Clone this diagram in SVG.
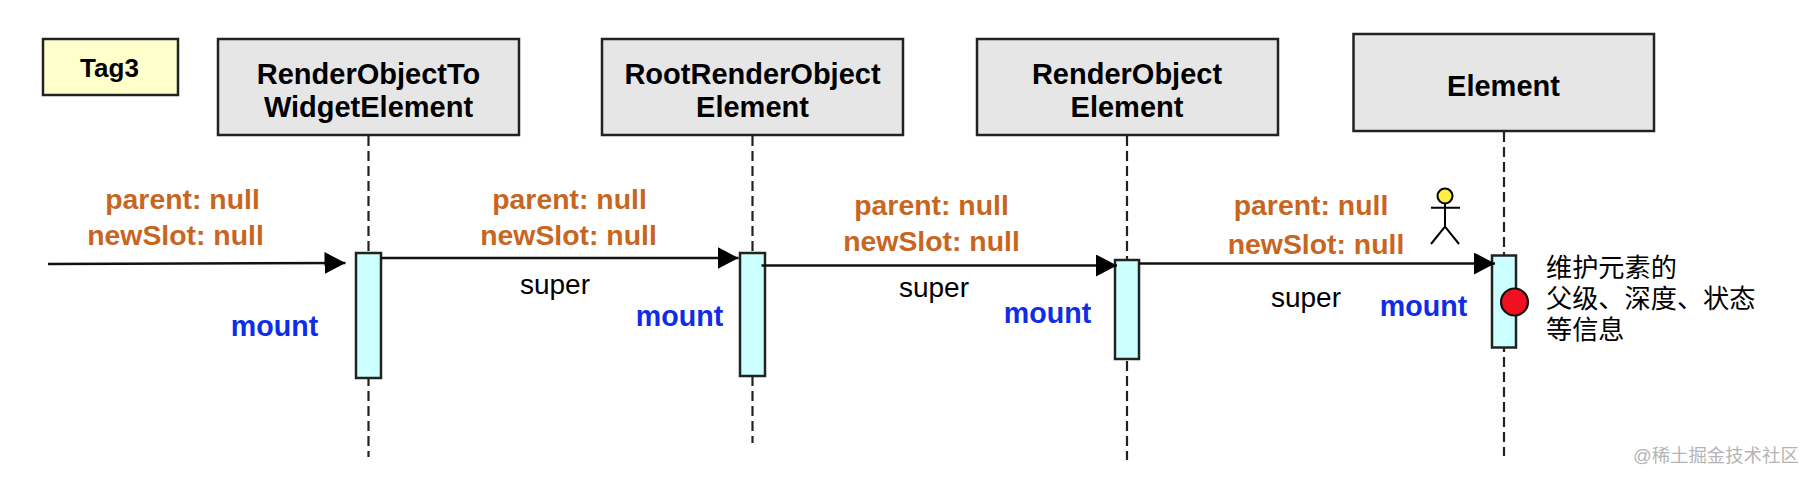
<svg xmlns="http://www.w3.org/2000/svg" width="1810" height="482" viewBox="0 0 1810 482">
<style>
text{font-family:"Liberation Sans",Arial,"Noto Sans CJK SC",sans-serif}
.b{font-weight:bold;text-anchor:middle;fill:#000;font-size:29px}
.box{fill:#e6e6e6;stroke:#222;stroke-width:2.5}
.act{fill:#ccffff;stroke:#222;stroke-width:2.5}
.life{stroke:#222;stroke-width:2.2;stroke-dasharray:10 5;fill:none}
.msg{stroke:#111;stroke-width:2.5;fill:none;marker-end:url(#ah)}
.arg{font-weight:bold;font-size:28.4px;fill:#c8661f;text-anchor:middle}
.mount{font-weight:bold;font-size:28.6px;fill:#0f2de8;text-anchor:middle}
.super{font-size:28px;fill:#000;text-anchor:middle}
.note{font-size:26.2px;fill:#000}
.wm{font-size:18.4px;fill:#b4b4b4}
</style>
<defs>
<marker id="ah" markerUnits="userSpaceOnUse" markerWidth="22" markerHeight="24" refX="21" refY="11" orient="auto">
<path d="M0 0L21 11L0 22Z" fill="#000"/>
</marker>
</defs>
<rect width="1810" height="482" fill="#fff"/>
<g id="lifelines">
<path class="life" d="M368.5 136V457"/>
<path class="life" d="M752.5 136V443"/>
<path class="life" d="M1127 136V460"/>
<path class="life" d="M1504 132V456"/>
</g>
<g id="tag3">
<rect x="43" y="39" width="135" height="56" fill="#ffffcc" stroke="#222" stroke-width="2.5"/>
<text class="b" x="109.5" y="76.5" style="font-size:26px">Tag3</text>
</g>
<g id="node-renderobjecttowidgetelement">
<rect class="box" x="218" y="39" width="301" height="96"/>
<text class="b" x="368.5" y="84">RenderObjectTo</text>
<text class="b" x="368.5" y="116.5">WidgetElement</text>
</g>
<g id="node-rootrenderobjectelement">
<rect class="box" x="602" y="39" width="301" height="96"/>
<text class="b" x="752.5" y="84">RootRenderObject</text>
<text class="b" x="752.5" y="116.5">Element</text>
</g>
<g id="node-renderobjectelement">
<rect class="box" x="977" y="39" width="301" height="96"/>
<text class="b" x="1127" y="84">RenderObject</text>
<text class="b" x="1127" y="116.5">Element</text>
</g>
<g id="node-element">
<rect class="box" x="1353.5" y="34" width="300.5" height="97"/>
<text class="b" x="1503.5" y="95.5">Element</text>
</g>
<g id="act-1"><rect class="act" x="356" y="253" width="25" height="125"/></g>
<g id="act-2"><rect class="act" x="740" y="253" width="25" height="123"/></g>
<g id="act-3"><rect class="act" x="1115" y="260" width="24" height="99"/></g>
<g id="act-4"><rect class="act" x="1492" y="255.500" width="24" height="92"/></g>
<g id="connectors">
<path class="msg" d="M48 264L345.500 263"/>
<path class="msg" d="M381 258H738.500"/>
<path class="msg" d="M761.500 265.500H1117"/>
<path class="msg" d="M1139 263.500H1495"/>
</g>
<g id="labels">
<text class="arg" x="182.500" y="209">parent: null</text>
<text class="arg" x="175.500" y="245">newSlot: null</text>
<text class="mount" x="274.500" y="336">mount</text>
<text class="arg" x="569.500" y="209">parent: null</text>
<text class="arg" x="568.500" y="245">newSlot: null</text>
<text class="super" x="555" y="294">super</text>
<text class="mount" x="679.500" y="326">mount</text>
<text class="arg" x="931.500" y="215">parent: null</text>
<text class="arg" x="931.500" y="251">newSlot: null</text>
<text class="super" x="934" y="297">super</text>
<text class="mount" x="1047.500" y="323">mount</text>
<text class="arg" x="1311" y="215">parent: null</text>
<text class="arg" x="1316" y="254">newSlot: null</text>
<text class="super" x="1306" y="307">super</text>
<text class="mount" x="1423.500" y="316">mount</text>
</g>
<g id="actor" fill="none" stroke="#000" stroke-width="2">
<circle cx="1445" cy="196" r="7.500" fill="#ffee44"/>
<path d="M1431 207.700H1460M1445 203.500V226.700L1431 244M1445 226.700L1459 244"/>
</g>
<g id="state-marker"><ellipse cx="1514.500" cy="302" rx="13.500" ry="13.500" fill="#f01020" stroke="#111" stroke-width="2.200"/></g>
<g id="note">
<text class="note" x="1546" y="277">维护元素的</text>
<text class="note" x="1546" y="308">父级、深度、状态</text>
<text class="note" x="1546" y="339">等信息</text>
</g>
<text class="wm" x="1633" y="462">@稀土掘金技术社区</text>
</svg>
